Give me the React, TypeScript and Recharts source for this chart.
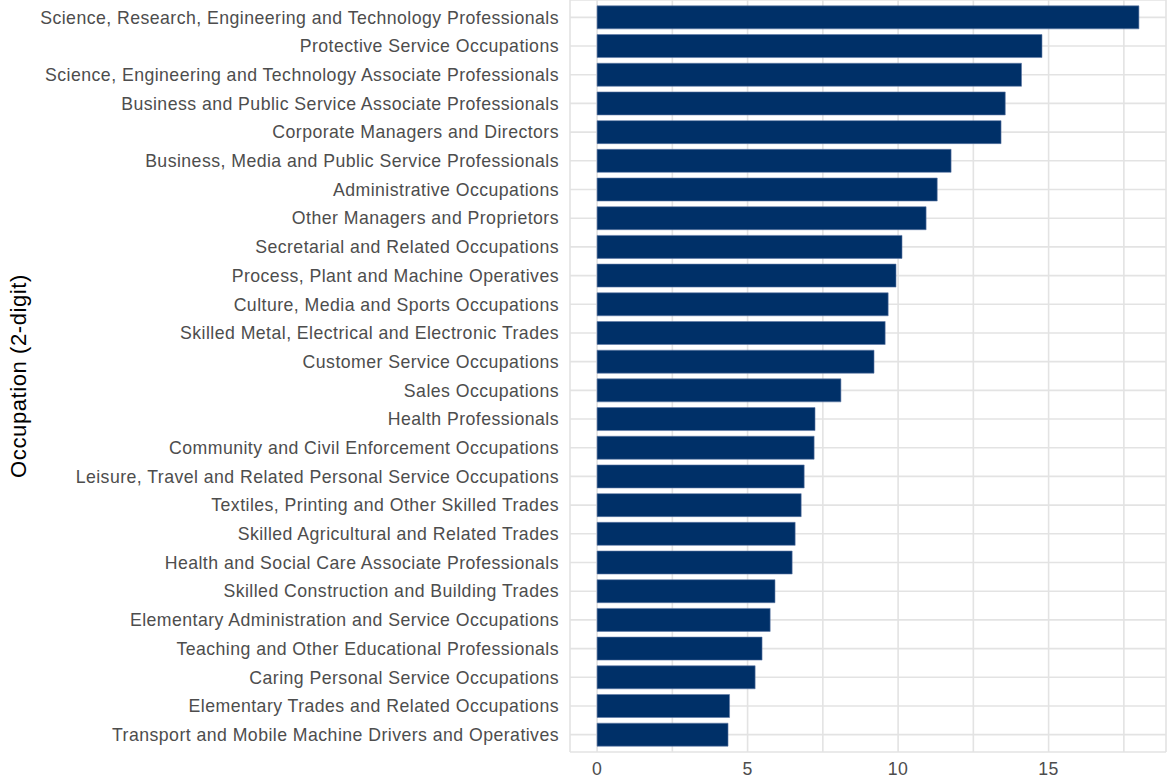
import React from "react";
import { BarChart, Bar, XAxis, YAxis, CartesianGrid } from "recharts";

const occupations = [
  "Science, Research, Engineering and Technology Professionals",
  "Protective Service Occupations",
  "Science, Engineering and Technology Associate Professionals",
  "Business and Public Service Associate Professionals",
  "Corporate Managers and Directors",
  "Business, Media and Public Service Professionals",
  "Administrative Occupations",
  "Other Managers and Proprietors",
  "Secretarial and Related Occupations",
  "Process, Plant and Machine Operatives",
  "Culture, Media and Sports Occupations",
  "Skilled Metal, Electrical and Electronic Trades",
  "Customer Service Occupations",
  "Sales Occupations",
  "Health Professionals",
  "Community and Civil Enforcement Occupations",
  "Leisure, Travel and Related Personal Service Occupations",
  "Textiles, Printing and Other Skilled Trades",
  "Skilled Agricultural and Related Trades",
  "Health and Social Care Associate Professionals",
  "Skilled Construction and Building Trades",
  "Elementary Administration and Service Occupations",
  "Teaching and Other Educational Professionals",
  "Caring Personal Service Occupations",
  "Elementary Trades and Related Occupations",
  "Transport and Mobile Machine Drivers and Operatives",
];

const values = [
  18.0, 14.78, 14.1, 13.56, 13.42, 11.76, 11.3, 10.93, 10.13, 9.93, 9.67, 9.57,
  9.2, 8.1, 7.24, 7.21, 6.88, 6.78, 6.58, 6.48, 5.91, 5.75, 5.48, 5.25, 4.4,
  4.35,
];

const xTicks = [0, 5, 10, 15];
const gridTicks = [0, 2.5, 5, 7.5, 10, 12.5, 15, 17.5];
const xDomain = [-0.9, 18.9];

const data = occupations.map((name, i) => ({ name, value: values[i] }));

const FONT = "Liberation Sans, Arial, Helvetica, sans-serif";

export default function App() {
  return (
    <div style={{ position: "absolute", left: 0, top: 0 }}>
      <BarChart
        width={1173}
        height={780}
        data={data}
        layout="vertical"
        margin={{ top: 0, right: 7, bottom: 0, left: 0 }}
        barCategoryGap="10%"
      >
        <CartesianGrid xAxisId="grid" stroke="#E3E3E3" strokeWidth={1.6} />
        <XAxis
          xAxisId="grid"
          type="number"
          orientation="top"
          height={0}
          domain={xDomain}
          ticks={gridTicks}
          allowDataOverflow
          hide
        />
        <XAxis
          xAxisId="main"
          type="number"
          domain={xDomain}
          ticks={xTicks}
          allowDataOverflow
          axisLine={false}
          tickLine={false}
          tickSize={0}
          tickMargin={10}
          height={28}
          tick={{ fill: "#4D4D4D", fontSize: 17.7, fontFamily: FONT, style: { letterSpacing: "0.45px" } }}
        />
        <YAxis
          type="category"
          dataKey="name"
          width={570}
          axisLine={false}
          tickLine={false}
          tickSize={0}
          tickMargin={11}
          interval={0}
          padding={{ top: 3, bottom: 3 }}
          tick={{ fill: "#4D4D4D", fontSize: 17.7, fontFamily: FONT, style: { letterSpacing: "0.45px" } }}
          label={{
            value: "Occupation (2-digit)",
            angle: -90,
            position: "insideLeft",
            offset: 18,
            style: { textAnchor: "middle", fill: "#000", fontSize: 22.1, fontFamily: FONT, letterSpacing: "0.55px" },
          }}
        />
        <Bar
          xAxisId="main"
          dataKey="value"
          fill="#003068"
          stroke="#6079A6"
          strokeWidth={0.6}
          isAnimationActive={false}
        />
      </BarChart>
    </div>
  );
}
